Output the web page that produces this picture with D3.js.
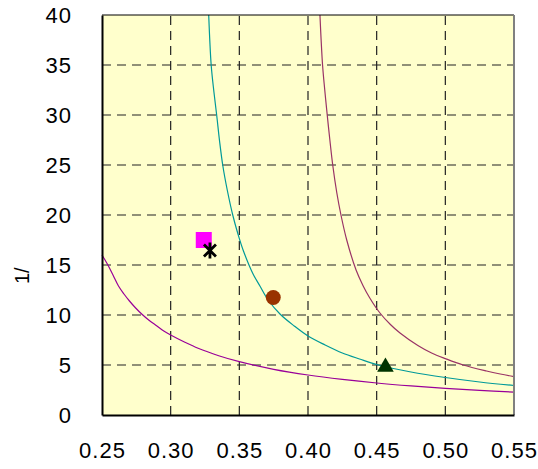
<!DOCTYPE html>
<html>
<head>
<meta charset="utf-8">
<script src="https://cdn.jsdelivr.net/npm/d3@7"></script>
<style>
  body { margin: 0; background: #fff; }
  text { font-family: "Liberation Sans", Arial, sans-serif; }
</style>
</head>
<body>
<script>
// values
const xTicks = [0.25, 0.30, 0.35, 0.40, 0.45, 0.50, 0.55];
const yTicks = [0, 5, 10, 15, 20, 25, 30, 35, 40];

// lower purple curve
const lowX = [0.25, 0.2539, 0.258, 0.262, 0.266, 0.27, 0.2745, 0.2789, 0.284, 0.29, 0.295, 0.30, 0.31, 0.32, 0.335, 0.35, 0.375, 0.40, 0.425, 0.45, 0.475, 0.50, 0.525, 0.55];
const lowY = [16, 15.1, 14.0, 12.9, 12.1, 11.4, 10.7, 10.1, 9.5, 8.9, 8.4, 8.0, 7.3, 6.67, 5.93, 5.33, 4.57, 4.0, 3.56, 3.2, 2.91, 2.67, 2.46, 2.29];

// teal curve
const tealX = [0.3277, 0.3295, 0.3315, 0.3335, 0.3356, 0.3379, 0.3412, 0.3452, 0.349, 0.353, 0.36, 0.365, 0.371, 0.3796, 0.39, 0.40, 0.4125, 0.425, 0.4375, 0.4512, 0.475, 0.50, 0.525, 0.55];
const tealY = [40, 35, 32.3, 30, 27.4, 25, 22.5, 20, 18.1, 16.4, 14.1, 12.9, 11.5, 10.1, 8.9, 7.9, 7.0, 6.2, 5.6, 5.0, 4.3, 3.75, 3.3, 2.95];

// upper maroon curve
const upX = [0.4087, 0.4106, 0.4122, 0.414, 0.416, 0.418, 0.421, 0.424, 0.4282, 0.435, 0.44, 0.445, 0.4524, 0.46, 0.467, 0.48, 0.49, 0.50, 0.513, 0.53, 0.54, 0.55];
const upY = [40, 35, 32.5, 30, 27.4, 25, 22.2, 20, 17.5, 14.5, 12.96, 11.7, 10.2, 9.05, 8.2, 6.95, 6.2, 5.64, 5.0, 4.4, 4.1, 3.84];

// markers
const pointNames = ["square", "asterisk", "circle", "triangle"];
const pointX = [0.3241, 0.3286, 0.3747, 0.4564];
const pointY = [17.5, 16.45, 11.75, 4.8];
const pointColor = ["#ff00ff", "#000000", "#993300", "#003300"];

const width = 538, height = 469;
const margin = {left: 102, top: 15, right: 24, bottom: 54};

const svg = d3.select("body").append("svg")
  .attr("width", width)
  .attr("height", height);

const x = d3.scaleLinear().domain([0.25, 0.55]).range([margin.left, width - margin.right]);
const y = d3.scaleLinear().domain([0, 40]).range([height - margin.bottom, margin.top]);

// plot area
svg.append("rect")
  .attr("x", x(0.25)).attr("y", y(40))
  .attr("width", x(0.55) - x(0.25)).attr("height", y(0) - y(40))
  .attr("fill", "#ffffcc");

// dashed grid
svg.append("g").selectAll("line.vg")
  .data(xTicks.slice(1, -1)).enter().append("line")
  .attr("x1", d => x(d)).attr("x2", d => x(d))
  .attr("y1", y(0)).attr("y2", y(40))
  .attr("stroke", "#222").attr("stroke-width", 1.2)
  .attr("stroke-dasharray", "9,6");

svg.append("g").selectAll("line.hg")
  .data(yTicks.slice(1, -1)).enter().append("line")
  .attr("x1", x(0.25)).attr("x2", x(0.55))
  .attr("y1", d => y(d)).attr("y2", d => y(d))
  .attr("stroke", "#222").attr("stroke-width", 1.2)
  .attr("stroke-dasharray", "9,6");

// curves
const line = d3.line().x(d => x(d[0])).y(d => y(d[1])).curve(d3.curveCatmullRom.alpha(0.5));
const curves = [
  {xs: lowX, ys: lowY, color: "#990099"},
  {xs: tealX, ys: tealY, color: "#009999"},
  {xs: upX, ys: upY, color: "#993366"}
];
svg.append("g").selectAll("path")
  .data(curves).enter().append("path")
  .attr("d", c => line(c.xs.map((v, i) => [v, c.ys[i]])))
  .attr("fill", "none")
  .attr("stroke", c => c.color)
  .attr("stroke-width", 1.2);

// frame
svg.append("line")
  .attr("x1", x(0.25)).attr("x2", x(0.55)).attr("y1", y(40)).attr("y2", y(40))
  .attr("stroke", "#000").attr("stroke-width", 1);
svg.append("line")
  .attr("x1", x(0.55)).attr("x2", x(0.55)).attr("y1", y(40)).attr("y2", y(0))
  .attr("stroke", "#808080").attr("stroke-width", 2);

// axes
const xAxis = svg.append("g")
  .attr("transform", `translate(0,${y(0)})`)
  .call(d3.axisBottom(x).tickValues(xTicks).tickSize(0).tickFormat(d3.format(".2f")));
xAxis.select(".domain").attr("stroke", "#000").attr("stroke-width", 2);
xAxis.selectAll("text")
  .attr("dy", null).attr("y", 43)
  .attr("font-size", 22).attr("letter-spacing", 1)
  .attr("font-family", "Liberation Sans, Arial, sans-serif")
  .attr("fill", "#000");

const yAxis = svg.append("g")
  .attr("transform", `translate(${x(0.25)},0)`)
  .call(d3.axisLeft(y).tickValues(yTicks).tickSize(0).tickPadding(30));
yAxis.select(".domain").attr("stroke", "#000").attr("stroke-width", 2);
yAxis.selectAll("text")
  .attr("font-size", 22).attr("letter-spacing", 1)
  .attr("font-family", "Liberation Sans, Arial, sans-serif")
  .attr("fill", "#000");

// y title
svg.append("text")
  .attr("transform", "translate(29,284) rotate(-90)")
  .attr("font-size", 20)
  .attr("fill", "#000")
  .text("1/");

// markers
const pts = pointNames.map((n, i) => ({name: n, x: pointX[i], y: pointY[i], color: pointColor[i]}));
const mk = svg.append("g").selectAll("g")
  .data(pts).enter().append("g")
  .attr("transform", d => `translate(${x(d.x)},${y(d.y)})`);

mk.filter(d => d.name === "square").append("rect")
  .attr("x", -8).attr("y", -8).attr("width", 16).attr("height", 16)
  .attr("fill", d => d.color);

mk.filter(d => d.name === "circle").append("circle")
  .attr("r", 7.5).attr("fill", d => d.color);

mk.filter(d => d.name === "triangle").append("path")
  .attr("d", d3.symbol().type(d3.symbolTriangle).size(120))
  .attr("fill", d => d.color);

mk.filter(d => d.name === "asterisk").append("path")
  .attr("d", "M-6,-6L6,6M-6,6L6,-6M0,-8L0,8")
  .attr("stroke", d => d.color).attr("stroke-width", 2.8)
  .attr("fill", "none");
</script>
</body>
</html>
